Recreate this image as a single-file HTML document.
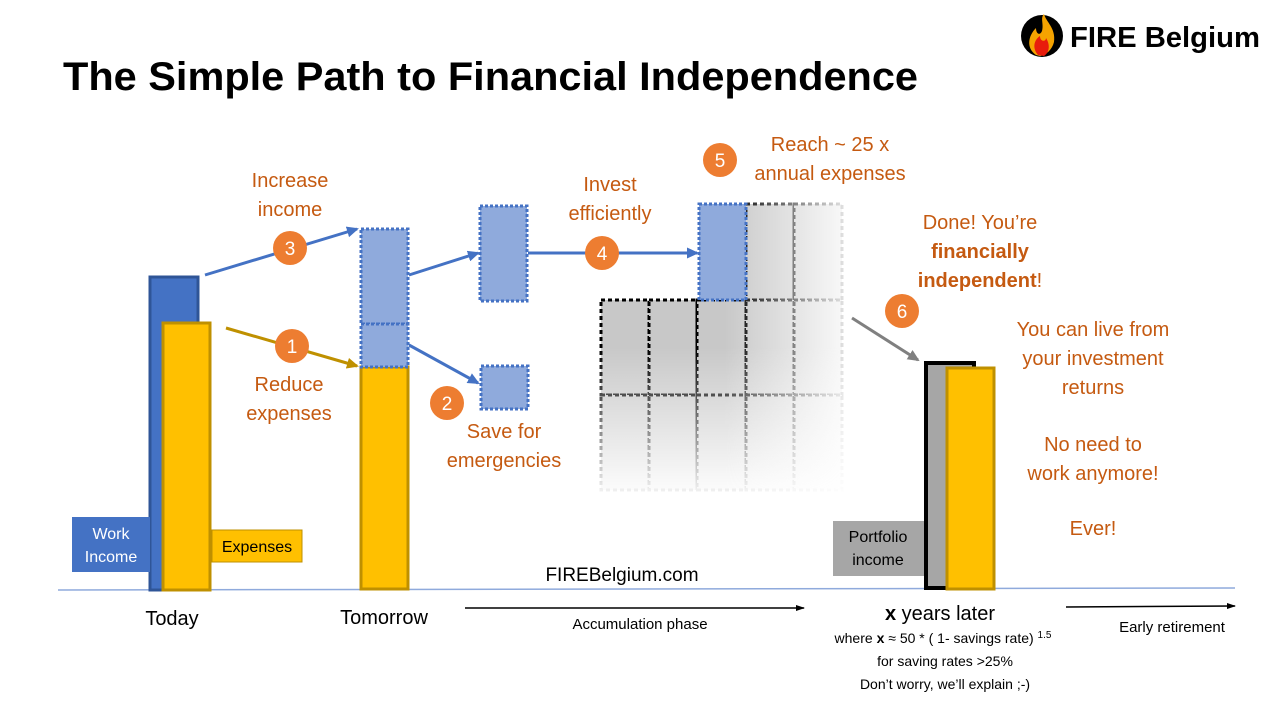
<!DOCTYPE html>
<html><head><meta charset="utf-8"><style>
html,body{margin:0;padding:0;background:#fff;}
svg{display:block;font-family:"Liberation Sans",sans-serif;}
.o{fill:#c55a11;font-size:20px;text-anchor:middle;}
.c{fill:#ed7d31;}
.ct{fill:#fff;font-size:19px;text-anchor:middle;}
</style></head><body>
<svg width="1280" height="720" viewBox="0 0 1280 720" xmlns="http://www.w3.org/2000/svg">
<defs>
<marker id="ab" markerWidth="12" markerHeight="11" refX="10" refY="5.5" orient="auto" markerUnits="userSpaceOnUse"><path d="M0,0 L12,5.5 L0,11z" fill="#4472c4"/></marker>
<marker id="ag" markerWidth="12" markerHeight="11" refX="10" refY="5.5" orient="auto" markerUnits="userSpaceOnUse"><path d="M0,0 L12,5.5 L0,11z" fill="#bf9000"/></marker>
<marker id="agr" markerWidth="12" markerHeight="11" refX="10" refY="5.5" orient="auto" markerUnits="userSpaceOnUse"><path d="M0,0 L12,5.5 L0,11z" fill="#808080"/></marker>
<marker id="ak" markerWidth="9" markerHeight="6" refX="8" refY="3" orient="auto" markerUnits="userSpaceOnUse"><path d="M0,0 L9,3 L0,6z" fill="#000"/></marker>
<linearGradient id="gh" x1="0" y1="0" x2="1" y2="0"><stop offset="0" stop-color="#fff"/><stop offset="0.5" stop-color="#fff"/><stop offset="1" stop-color="#000"/></linearGradient>
<linearGradient id="gv" x1="0" y1="0" x2="0" y2="1"><stop offset="0" stop-color="#fff"/><stop offset="0.5" stop-color="#fff"/><stop offset="1" stop-color="#000"/></linearGradient>
<mask id="mh" maskUnits="userSpaceOnUse" x="590" y="195" width="270" height="305"><rect x="590" y="195" width="270" height="305" fill="url(#gh)"/></mask>
<mask id="mv" maskUnits="userSpaceOnUse" x="590" y="195" width="270" height="305"><rect x="590" y="195" width="270" height="305" fill="url(#gv)"/></mask>
</defs>

<text x="63" y="90" font-size="40" font-weight="bold" fill="#000" textLength="855" lengthAdjust="spacingAndGlyphs">The Simple Path to Financial Independence</text>

<circle cx="1042" cy="36" r="21" fill="#000"/>
<path d="M1036,55 C1026,48 1028,36 1036,28 C1036,34 1040,36 1042,31 C1044,24 1040,18 1044,14 C1046,22 1056,28 1054,42 C1052,50 1046,55 1040,56z" fill="#f5a300"/>
<path d="M1038,55 C1032,48 1034,40 1040,36 C1040,42 1046,42 1046,38 C1050,44 1050,52 1044,56z" fill="#e81c0c"/>
<text x="1070" y="47" font-size="29" font-weight="bold" fill="#000" textLength="190" lengthAdjust="spacingAndGlyphs">FIRE Belgium</text>

<g mask="url(#mh)"><g mask="url(#mv)">
<g fill="#c8c8c8" stroke="#000" stroke-width="3" stroke-dasharray="4,3">
<rect x="746" y="204" width="48" height="96"/>
<rect x="794" y="204" width="48" height="96"/>
<rect x="601" y="300" width="48" height="95"/>
<rect x="649" y="300" width="48" height="95"/>
<rect x="697" y="300" width="49" height="95"/>
<rect x="746" y="300" width="48" height="95"/>
<rect x="794" y="300" width="48" height="95"/>
<rect x="601" y="395" width="48" height="95"/>
<rect x="649" y="395" width="48" height="95"/>
<rect x="697" y="395" width="49" height="95"/>
<rect x="746" y="395" width="48" height="95"/>
<rect x="794" y="395" width="48" height="95"/>
</g></g></g>

<line x1="58" y1="590" x2="1235" y2="588" stroke="#8faadc" stroke-width="1.5"/>

<rect x="150" y="277" width="48" height="313" fill="#4472c4" stroke="#2f5597" stroke-width="3"/>
<rect x="163" y="323" width="47" height="267" fill="#ffc000" stroke="#bf9000" stroke-width="3"/>
<rect x="72" y="517" width="78" height="55" fill="#4472c4"/>
<text x="111" y="539" font-size="16" fill="#fff" text-anchor="middle">Work</text>
<text x="111" y="562" font-size="16" fill="#fff" text-anchor="middle">Income</text>
<rect x="212" y="530" width="90" height="32" fill="#ffc000" stroke="#bf9000" stroke-width="1"/>
<text x="257" y="552" font-size="16" fill="#000" text-anchor="middle">Expenses</text>

<rect x="361" y="367" width="47" height="222" fill="#ffc000" stroke="#bf9000" stroke-width="3"/>
<g fill="#8faadc" stroke="#4472c4" stroke-width="3" stroke-dasharray="3,2">
<rect x="361" y="229" width="47" height="95"/>
<rect x="361" y="324" width="47" height="43"/>
<rect x="480" y="206" width="47" height="95"/>
<rect x="481" y="366" width="47" height="43"/>
<rect x="699" y="204" width="47" height="96"/>
</g>

<rect x="926" y="363" width="48" height="225" fill="#a6a6a6" stroke="#000" stroke-width="4"/>
<rect x="947" y="368" width="47" height="221" fill="#ffc000" stroke="#bf9000" stroke-width="3"/>
<rect x="833" y="521" width="91" height="55" fill="#a6a6a6"/>
<text x="878" y="542" font-size="16" fill="#000" text-anchor="middle">Portfolio</text>
<text x="878" y="565" font-size="16" fill="#000" text-anchor="middle">income</text>

<g stroke-width="3" fill="none">
<line x1="205" y1="275" x2="357" y2="229" stroke="#4472c4" marker-end="url(#ab)"/>
<line x1="226" y1="328" x2="357" y2="366" stroke="#bf9000" marker-end="url(#ag)"/>
<line x1="409" y1="275" x2="478" y2="253" stroke="#4472c4" marker-end="url(#ab)"/>
<line x1="409" y1="345" x2="478" y2="383" stroke="#4472c4" marker-end="url(#ab)"/>
<line x1="528" y1="253" x2="697" y2="253" stroke="#4472c4" marker-end="url(#ab)"/>
<line x1="852" y1="318" x2="918" y2="360" stroke="#808080" marker-end="url(#agr)"/>
</g>

<circle class="c" cx="290" cy="248" r="17"/><text class="ct" x="290" y="255">3</text>
<circle class="c" cx="292" cy="346" r="17"/><text class="ct" x="292" y="353">1</text>
<circle class="c" cx="447" cy="403" r="17"/><text class="ct" x="447" y="410">2</text>
<circle class="c" cx="602" cy="253" r="17"/><text class="ct" x="602" y="260">4</text>
<circle class="c" cx="720" cy="160" r="17"/><text class="ct" x="720" y="167">5</text>
<circle class="c" cx="902" cy="311" r="17"/><text class="ct" x="902" y="318">6</text>

<text class="o" x="290" y="187">Increase</text>
<text class="o" x="290" y="216">income</text>
<text class="o" x="289" y="391">Reduce</text>
<text class="o" x="289" y="420">expenses</text>
<text class="o" x="504" y="438">Save for</text>
<text class="o" x="504" y="467">emergencies</text>
<text class="o" x="610" y="191">Invest</text>
<text class="o" x="610" y="220">efficiently</text>
<text class="o" x="830" y="151">Reach ~ 25 x</text>
<text class="o" x="830" y="180">annual expenses</text>
<text class="o" x="980" y="229">Done! You’re</text>
<text class="o" x="980" y="258" font-weight="bold">financially</text>
<text class="o" x="980" y="287"><tspan font-weight="bold">independent</tspan>!</text>
<text class="o" x="1093" y="336">You can live from</text>
<text class="o" x="1093" y="365">your investment</text>
<text class="o" x="1093" y="394">returns</text>
<text class="o" x="1093" y="451">No need to</text>
<text class="o" x="1093" y="480">work anymore!</text>
<text class="o" x="1093" y="535">Ever!</text>

<text x="622" y="581" font-size="19" text-anchor="middle">FIREBelgium.com</text>
<text x="172" y="625" font-size="20" text-anchor="middle">Today</text>
<text x="384" y="624" font-size="20" text-anchor="middle">Tomorrow</text>
<line x1="465" y1="608" x2="804" y2="608" stroke="#000" stroke-width="1.5" marker-end="url(#ak)"/>
<text x="640" y="629" font-size="15" text-anchor="middle">Accumulation phase</text>
<text x="940" y="620" font-size="20" text-anchor="middle"><tspan font-weight="bold">x</tspan> years later</text>
<text x="943" y="643" font-size="14" text-anchor="middle">where <tspan font-weight="bold">x</tspan> ≈ 50 * ( 1- savings rate) <tspan font-size="10" dy="-5">1.5</tspan></text>
<text x="945" y="666" font-size="14" text-anchor="middle">for saving rates &gt;25%</text>
<text x="945" y="689" font-size="14" text-anchor="middle">Don’t worry, we’ll explain ;-)</text>
<line x1="1066" y1="607" x2="1235" y2="606" stroke="#000" stroke-width="1.5" marker-end="url(#ak)"/>
<text x="1172" y="632" font-size="15" text-anchor="middle">Early retirement</text>
</svg>
</body></html>
